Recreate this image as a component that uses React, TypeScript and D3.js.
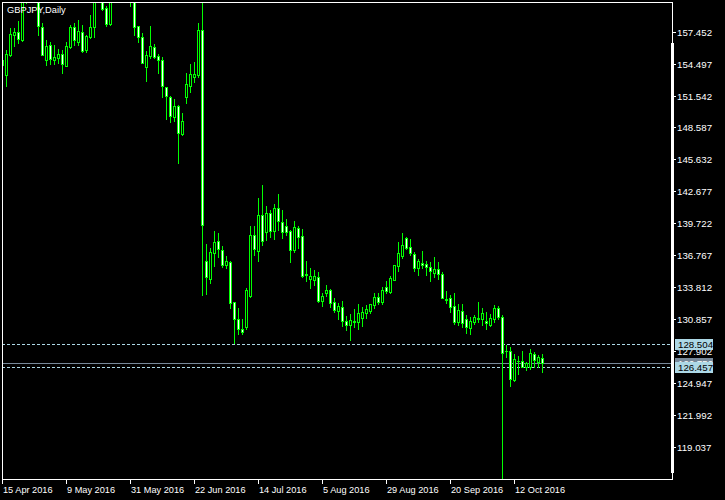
import React from "react";
import * as d3 from "d3";

const symbolTitle = "GBPJPY,Daily";

const opens = [154.37,153.47,155.29,157.12,157.43,156.71,160.6,161.3,161.0,161.9,157.86,154.83,156.19,154.86,155.05,155.39,154.3,156.04,157.89,156.53,157.43,155.76,156.99,157.86,160.5,160.7,159.65,158.17,160.5,161.6,161.0,161.4,160.8,160.6,157.95,156.93,154.21,155.2,156.01,155.17,154.8,152.3,151.41,149.58,150.6,147.98,151.43,152.45,153.29,153.47,157.61,136.22,134.58,136.93,138.04,137.24,135.85,136.13,132.43,130.85,129.92,130.14,132.98,138.63,137.17,140.48,138.93,140.64,139.03,141.1,139.86,139.46,139.03,137.24,139.25,138.53,135.0,134.58,134.46,134.77,132.54,133.23,133.53,132.4,131.62,131.99,130.63,130.32,130.6,130.57,130.94,131.38,131.62,132.17,132.89,132.45,133.81,133.38,134.46,135.78,136.71,138.32,137.49,136.89,135.6,136.0,135.91,135.69,135.11,135.45,135.02,132.67,132.76,132.02,130.6,131.59,130.82,130.04,130.6,130.9,130.82,130.66,130.29,130.82,131.84,131.0,127.9,127.91,125.2,126.93,126.96,126.4,126.43,127.61,126.89,127.21];
const highs = [155.29,155.76,157.79,157.79,158.44,161.0,161.8,162.0,162.6,162.1,158.23,156.68,156.5,156.22,155.88,155.76,156.5,158.07,158.26,158.54,158.09,157.15,159.0,160.9,161.6,161.0,159.83,160.8,162.0,162.2,161.9,161.8,161.4,160.9,157.95,157.3,155.69,157.98,156.31,155.36,155.14,152.36,151.5,151.22,150.66,149.9,153.63,154.46,154.65,158.26,160.25,137.8,137.39,139.0,138.82,137.61,136.71,136.22,132.43,131.87,130.85,133.72,139.46,139.46,142.08,143.26,141.31,140.99,141.5,142.42,140.99,140.08,139.09,139.92,139.46,139.18,136.22,135.6,135.39,135.2,133.23,134.0,133.63,132.77,132.36,132.54,131.13,131.28,131.78,132.24,131.99,132.15,132.21,133.29,133.23,133.84,134.4,134.83,135.82,137.95,138.78,138.41,138.26,137.05,136.4,137.14,136.19,136.1,136.59,136.13,135.17,133.44,133.07,133.26,132.24,132.24,131.19,131.06,131.22,132.42,131.87,131.5,131.31,132.15,132.08,131.22,128.44,128.28,127.61,127.42,127.89,126.9,128.05,127.79,127.49,127.61];
const lows = [152.52,152.42,155.2,156.16,156.43,156.6,160.11,160.4,160.6,157.12,155.3,154.37,154.43,154.43,154.58,153.6,154.3,155.97,156.19,156.22,155.58,155.58,156.84,157.0,160.3,159.45,157.98,158.07,160.3,160.6,160.7,160.4,159.83,157.15,156.53,154.52,152.91,154.99,154.99,153.66,151.43,149.37,149.12,149.21,145.32,147.89,150.88,151.9,152.79,153.29,133.07,133.16,134.18,135.78,136.56,135.69,135.54,131.9,128.65,129.46,129.46,129.92,132.86,136.77,136.25,137.7,138.16,138.47,138.25,139.09,138.38,138.63,136.15,137.05,137.4,134.77,134.4,133.75,134.0,132.4,132.08,133.0,131.99,131.54,130.88,130.23,129.83,128.9,130.14,129.89,130.23,130.91,131.43,131.9,132.24,132.24,133.23,133.23,134.46,135.3,136.47,137.3,136.77,135.3,134.92,135.6,134.92,134.4,134.77,134.52,132.76,132.36,131.53,130.36,130.29,130.08,129.58,129.46,130.36,130.6,130.29,129.92,130.2,130.6,130.82,116.0,127.35,124.64,125.11,125.75,126.37,126.11,126.25,126.43,126.4,125.94];
const closes = [154.83,155.39,157.24,157.4,156.75,160.6,161.3,161.0,161.9,157.98,155.32,156.13,154.95,155.11,155.42,154.49,156.13,157.89,156.66,157.52,155.67,157.06,157.86,160.5,161.2,159.55,158.17,160.5,161.6,161.0,161.4,160.8,160.5,157.86,156.99,154.58,155.29,156.1,155.14,154.8,152.45,151.52,149.67,150.57,148.04,149.18,152.61,153.54,153.54,157.61,139.55,134.77,137.02,137.95,137.3,135.88,136.22,132.36,130.88,129.9,129.67,133.53,138.63,137.3,140.48,138.1,140.64,139.03,141.1,139.95,138.93,138.93,137.24,139.34,138.47,134.83,134.9,134.83,134.83,132.49,132.98,133.53,132.36,131.68,132.05,130.69,130.32,130.76,130.7,131.38,131.53,131.78,132.21,132.89,132.43,133.53,133.47,134.62,135.82,136.93,137.67,137.45,136.99,135.6,136.22,135.82,135.69,135.26,135.45,135.02,132.82,132.6,131.99,130.6,131.68,130.5,130.08,130.63,131.03,130.91,131.38,130.45,130.91,131.87,131.03,127.73,127.85,125.32,127.11,126.96,126.43,126.74,127.7,127.02,127.3,126.75];

const priceTicks = [157.452,154.497,151.542,148.587,145.632,142.677,139.722,136.767,133.812,130.857,127.902,124.947,121.992,119.037];
const dateLabels = ["15 Apr 2016","9 May 2016","31 May 2016","22 Jun 2016","14 Jul 2016","5 Aug 2016","29 Aug 2016","20 Sep 2016","12 Oct 2016"];
const dateBarIndex = [0,16,32,48,64,80,96,112,128];
const levelLines = [128.504, 126.457];

const W = 725, H = 500;
const L = 2, T = 2, R = 672, B = 479;
const GREEN = "#00ff00";
const LEVEL = "#add8e6";
const BIDC = "#778899";
const FONT = "'Liberation Sans', Arial, sans-serif";

export default function App() {
  const x = d3.scaleLinear().domain([0, 167.5]).range([2, 672]);
  const y = d3.scaleLinear().domain([119.037, 157.452]).range([446.7, 31.7]);
  const bid = closes[closes.length - 1];
  const fmt = d3.format(".3f");

  const candles = opens.map((o, i) => {
    const c = closes[i];
    const cx = Math.round(x(i));
    const yh = Math.round(y(highs[i]));
    const yl = Math.round(y(lows[i]));
    const yt = Math.round(y(Math.max(o, c)));
    const yb = Math.round(y(Math.min(o, c)));
    const h = yb - yt + 1;
    const bull = c > o;
    return (
      <g key={i}>
        <rect x={cx} y={yh} width={1} height={yl - yh + 1} fill={GREEN} />
        <rect x={cx - 1} y={yt} width={3} height={h} fill={GREEN} />
        {h >= 3 && (
          <rect x={cx} y={yt + 1} width={1} height={h - 2} fill={bull ? "#000" : "#fff"} />
        )}
      </g>
    );
  });

  const yBid = Math.round(y(bid));

  return (
    <svg width={W} height={H} style={{ position: "absolute", left: 0, top: 0, display: "block" }} shapeRendering="crispEdges">
      <rect x={0} y={0} width={W} height={H} fill="#000" />
      <defs>
        <clipPath id="plot">
          <rect x={L} y={T} width={R - L} height={B - T} />
        </clipPath>
      </defs>
      <g clipPath="url(#plot)">
        {levelLines.map((v, k) => (
          <line key={k} x1={L} x2={R} y1={Math.round(y(v)) + 0.5} y2={Math.round(y(v)) + 0.5} stroke={LEVEL} strokeWidth={1} strokeDasharray="3,2" />
        ))}
        <line x1={L} x2={R} y1={yBid + 0.5} y2={yBid + 0.5} stroke={BIDC} strokeWidth={1} />
        {candles}
      </g>
      <text x={7} y={13} fill="#fff" fontFamily={FONT} fontSize={9.3} shapeRendering="auto">{symbolTitle}</text>
      {/* frame */}
      <rect x={L} y={T} width={R - L + 1} height={1} fill="#fff" />
      <rect x={L} y={T} width={1} height={B - T + 1} fill="#fff" />
      <rect x={R} y={T} width={1} height={B - T + 1} fill="#fff" />
      <rect x={L} y={B} width={R - L + 1} height={1} fill="#fff" />
      <rect x={R - 1} y={43} width={3} height={430} fill="#fff" />
      {/* price axis */}
      {priceTicks.map((v, k) => {
        const py = Math.round(y(v));
        return (
          <g key={k}>
            <rect x={R + 1} y={py} width={3} height={1} fill="#fff" />
            <text x={R + 5} y={py + 3.5} fill="#fff" fontFamily={FONT} fontSize={9.7} shapeRendering="auto">{fmt(v)}</text>
          </g>
        );
      })}
      {/* bid label */}
      <rect x={675} y={yBid - 5} width={38} height={11} fill={BIDC} />
      <text x={678} y={yBid + 3.5} fill="#fff" fontFamily={FONT} fontSize={9.7} shapeRendering="auto">{fmt(bid)}</text>
      {/* level labels */}
      {levelLines.map((v, k) => {
        const py = Math.round(y(v));
        return (
          <g key={k}>
            <rect x={675} y={py - 5} width={38} height={11} fill={LEVEL} />
            <text x={678} y={py + 3.5} fill="#000" fontFamily={FONT} fontSize={9.7} shapeRendering="auto">{fmt(v)}</text>
          </g>
        );
      })}
      {/* date axis */}
      {dateLabels.map((s, k) => {
        const px = Math.round(x(dateBarIndex[k]));
        return (
          <g key={k}>
            <rect x={px} y={B} width={1} height={5} fill="#fff" />
            <text x={px + 1} y={493} fill="#fff" fontFamily={FONT} fontSize={9.2} shapeRendering="auto">{s}</text>
          </g>
        );
      })}
    </svg>
  );
}
